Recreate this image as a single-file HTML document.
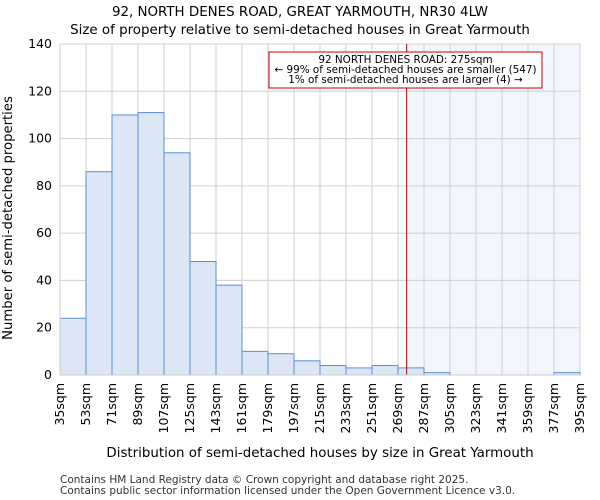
<!DOCTYPE html>
<html><head><meta charset="utf-8">
<style>
body{margin:0;background:#fff;}
svg{display:block;font-family:"DejaVu Sans","Liberation Sans",sans-serif;}
</style></head>
<body>
<svg id="chart" width="600" height="500" viewBox="0 0 600 500">
  <text x="300" y="16" text-anchor="middle" font-size="13.4">92, NORTH DENES ROAD, GREAT YARMOUTH, NR30 4LW</text>
  <text x="300" y="34" text-anchor="middle" font-size="13.4">Size of property relative to semi-detached houses in Great Yarmouth</text>
  <g id="plot"></g>
  <text x="320" y="457" text-anchor="middle" font-size="13.4">Distribution of semi-detached houses by size in Great Yarmouth</text>
  <text transform="translate(12,218) rotate(-90)" text-anchor="middle" font-size="13.2">Number of semi-detached properties</text>
  <text x="60" y="483" font-size="10.5" fill="#333">Contains HM Land Registry data © Crown copyright and database right 2025.</text>
  <text x="60" y="494" font-size="10.5" fill="#333">Contains public sector information licensed under the Open Government Licence v3.0.</text>
</svg>
<script>
const binEdges = [35,53,71,89,107,125,143,161,179,197,215,233,251,269,287,305,323,341,359,377,395];
const counts = [24,86,110,111,94,48,38,10,9,6,4,3,4,3,1,0,0,0,0,1];
const yTicks = [0,20,40,60,80,100,120,140];
const propertySize = 275;
const annotationLines = ["92 NORTH DENES ROAD: 275sqm","← 99% of semi-detached houses are smaller (547)","1% of semi-detached houses are larger (4) →"];

const L=60,R=580,T=44,B=375;
const xMin=35,xMax=395,yMax=140;
const xs=v=>L+(v-xMin)/(xMax-xMin)*(R-L);
const ys=v=>B-v/yMax*(B-T);
const NS="http://www.w3.org/2000/svg";
const g=document.getElementById('plot');
function mk(tag,attrs){const e=document.createElementNS(NS,tag);for(const k in attrs)e.setAttribute(k,attrs[k]);g.appendChild(e);return e;}

const hl=mk('rect',{x:xs(propertySize),y:T,width:R-xs(propertySize),height:B-T,fill:'#f3f6fd'});


binEdges.forEach(v=>{
  const l=mk('line',{x1:xs(v),x2:xs(v),y1:T,y2:B,stroke:'#d0d0d0','stroke-width':1});
  
  
});
yTicks.forEach(v=>{
  const l=mk('line',{x1:L,x2:R,y1:ys(v),y2:ys(v),stroke:'#d0d0d0','stroke-width':1});
  
  
  const t=mk('text',{x:L-8,y:ys(v)+4,'text-anchor':'end','font-size':12.5});
  t.textContent=v;
  
  
});
counts.forEach((c,i)=>{
  if(c<=0)return;
  const x0=xs(binEdges[i]),x1=xs(binEdges[i+1]);
  const r=mk('rect',{x:x0,y:ys(c),width:x1-x0,height:B-ys(c),fill:'#dce6f4',stroke:'#5b8fd3','stroke-width':1});
  
  
});
binEdges.forEach(v=>{
  const x=xs(v);
  const t=mk('text',{transform:`translate(${x+4},${B+8}) rotate(-90)`,'text-anchor':'end','font-size':12.5});
  t.textContent=v+'sqm';
  
  
});
const ml=mk('line',{x1:xs(propertySize),x2:xs(propertySize),y1:T,y2:B,stroke:'#aa0000','stroke-width':1});


const box=mk('rect',{x:269,y:52,width:273,height:36,fill:'#fff',stroke:'#cc0000','stroke-width':1});


annotationLines.forEach((s,i)=>{
  const t=mk('text',{x:405.5,y:63+i*10,'text-anchor':'middle','font-size':10.4});
  t.textContent=s;
  
  
});
const ax=mk('path',{d:`M${L},${T}V${B}H${R}`,fill:'none',stroke:'#ccc','stroke-width':1});


</script>
</body></html>
